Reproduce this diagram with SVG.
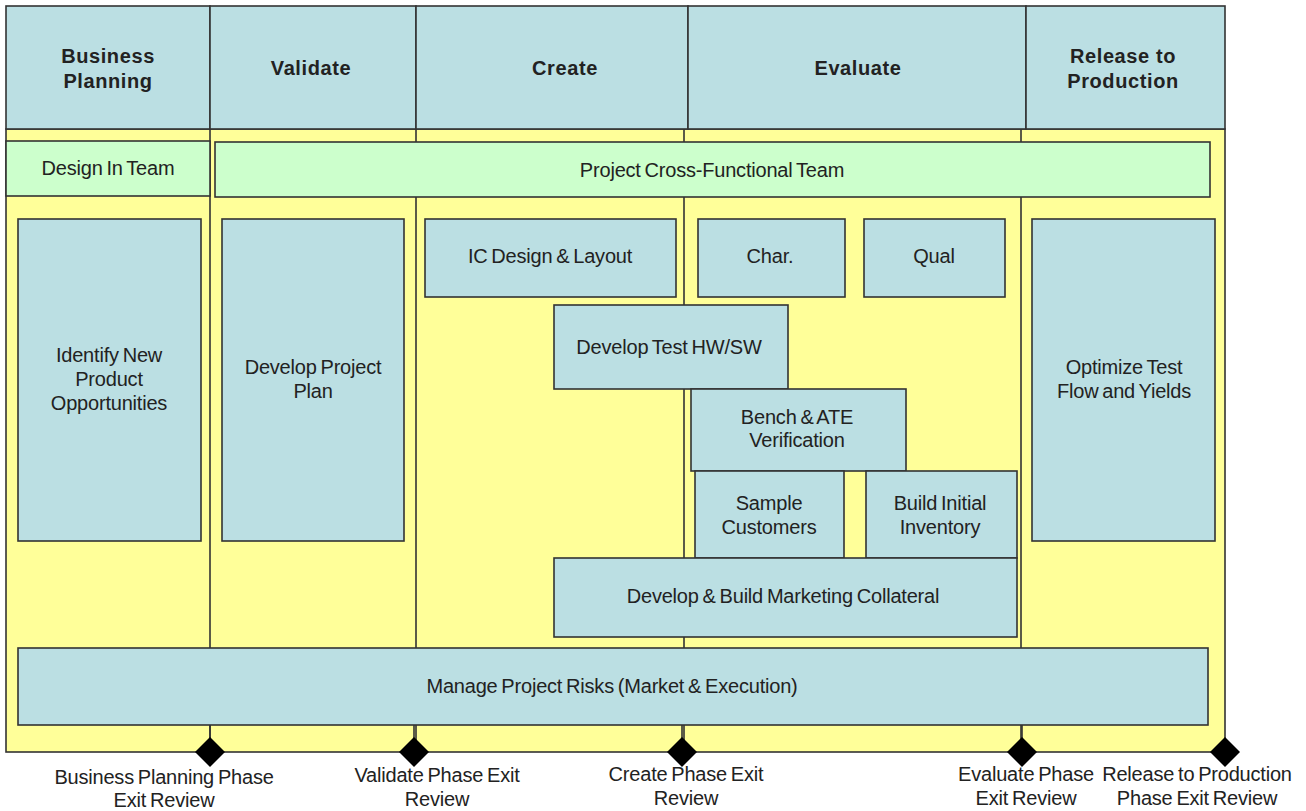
<svg xmlns="http://www.w3.org/2000/svg" width="1306" height="811" viewBox="0 0 1306 811">
<style>
.hdr{fill:#BBDFE3;stroke:#333;stroke-width:1.6}
.box{fill:#BBDFE3;stroke:#333;stroke-width:1.6}
.team{fill:#CCFFCC;stroke:#333;stroke-width:1.6}
.lane{stroke:#333;stroke-width:1.6;fill:none}
.ht{font-family:"Liberation Sans",Arial,sans-serif;font-size:20px;font-weight:bold;fill:#222;text-anchor:middle;letter-spacing:0.6px}
.t{font-family:"Liberation Sans",Arial,sans-serif;font-size:20px;fill:#222;text-anchor:middle;letter-spacing:-0.2px;word-spacing:-1.5px}
.dia{fill:#000}
</style>
<rect x="0" y="0" width="1306" height="811" fill="#fff"/>
<g id="background">
<rect x="6" y="129" width="1219" height="623" fill="#FFFF99" stroke="#333" stroke-width="1.6"/>
<path class="lane" d="M210 129V752M416 129V752M684 129V752M1021 129V752"/>
</g>
<g id="header">
<rect class="hdr" x="6" y="6" width="204" height="123"/>
<rect class="hdr" x="210" y="6" width="206" height="123"/>
<rect class="hdr" x="416" y="6" width="272" height="123"/>
<rect class="hdr" x="688" y="6" width="338" height="123"/>
<rect class="hdr" x="1026" y="6" width="199" height="123"/>
<text class="ht" x="108" y="63">Business</text>
<text class="ht" x="108" y="88">Planning</text>
<text class="ht" x="311" y="75">Validate</text>
<text class="ht" x="565" y="75">Create</text>
<text class="ht" x="858" y="75">Evaluate</text>
<text class="ht" x="1123" y="63">Release to</text>
<text class="ht" x="1123" y="88">Production</text>
</g>
<g id="connectors">
<path class="lane" d="M210 725V740M414 725V740M682 725V740M1022 725V740"/>
</g>
<g id="design-in-team"><rect class="team" x="6" y="141" width="204" height="55"/><text class="t" x="108" y="175">Design In Team</text></g>
<g id="cross-functional-team"><rect class="team" x="215" y="142" width="995" height="55"/><text class="t" x="712" y="177">Project Cross-Functional Team</text></g>
<g id="identify"><rect class="box" x="18" y="219" width="183" height="322"/><text class="t" x="109" y="362">Identify New</text><text class="t" x="109" y="386">Product</text><text class="t" x="109" y="410">Opportunities</text></g>
<g id="project-plan"><rect class="box" x="222" y="219" width="182" height="322"/><text class="t" x="313" y="374">Develop Project</text><text class="t" x="313" y="398">Plan</text></g>
<g id="ic-design"><rect class="box" x="425" y="219" width="251" height="78"/><text class="t" x="550" y="263">IC Design &amp; Layout</text></g>
<g id="char"><rect class="box" x="698" y="219" width="147" height="78"/><text class="t" x="770" y="263">Char.</text></g>
<g id="qual"><rect class="box" x="864" y="219" width="141" height="78"/><text class="t" x="934" y="263">Qual</text></g>
<g id="optimize"><rect class="box" x="1032" y="219" width="183" height="322"/><text class="t" x="1124" y="374">Optimize Test</text><text class="t" x="1124" y="398">Flow and Yields</text></g>
<g id="test-hwsw"><rect class="box" x="554" y="305" width="234" height="84"/><text class="t" x="669" y="354">Develop Test HW/SW</text></g>
<g id="bench-ate"><rect class="box" x="691" y="389" width="215" height="82"/><text class="t" x="797" y="424">Bench &amp; ATE</text><text class="t" x="797" y="447">Verification</text></g>
<g id="sample-customers"><rect class="box" x="695" y="471" width="149" height="87"/><text class="t" x="769" y="510">Sample</text><text class="t" x="769" y="534">Customers</text></g>
<g id="initial-inventory"><rect class="box" x="866" y="471" width="151" height="87"/><text class="t" x="940" y="510">Build Initial</text><text class="t" x="940" y="534">Inventory</text></g>
<g id="marketing"><rect class="box" x="554" y="558" width="463" height="79"/><text class="t" x="783" y="603">Develop &amp; Build Marketing Collateral</text></g>
<g id="risks"><rect class="box" x="18" y="648" width="1190" height="77"/><text class="t" x="612" y="693">Manage Project Risks (Market &amp; Execution)</text></g>
<g id="reviews">
<text class="t" x="164" y="784">Business Planning Phase</text><text class="t" x="164" y="807">Exit Review</text>
<text class="t" x="437" y="782">Validate Phase Exit</text><text class="t" x="437" y="806">Review</text>
<text class="t" x="686" y="781">Create Phase Exit</text><text class="t" x="686" y="805">Review</text>
<text class="t" x="1026" y="781">Evaluate Phase</text><text class="t" x="1026" y="805">Exit Review</text>
<text class="t" x="1197" y="781">Release to Production</text><text class="t" x="1197" y="805">Phase Exit Review</text>
<path class="dia" d="M210 737L225 752L210 767L195 752Z"/>
<path class="dia" d="M414 737L429 752L414 767L399 752Z"/>
<path class="dia" d="M682 737L697 752L682 767L667 752Z"/>
<path class="dia" d="M1022 737L1037 752L1022 767L1007 752Z"/>
<path class="dia" d="M1225 737L1240 752L1225 767L1210 752Z"/>
</g>
</svg>
